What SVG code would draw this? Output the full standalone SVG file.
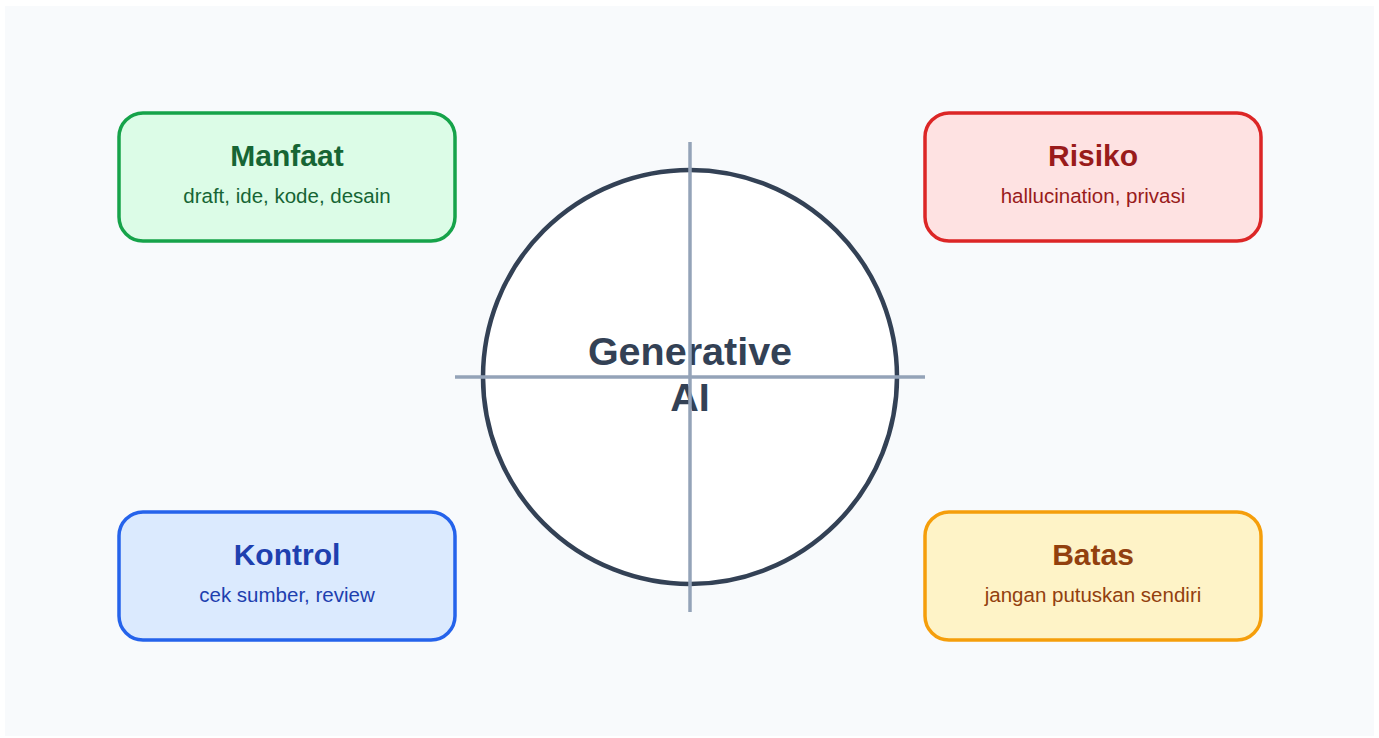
<svg xmlns="http://www.w3.org/2000/svg" width="1379" height="738" viewBox="0 0 1379 738">
  <style>
    .card { stroke-width: 3.5; }
    .title { font-family: "Liberation Sans", Arial, sans-serif; font-weight: bold; font-size: 30px; text-anchor: middle; }
    .sub { font-family: "Liberation Sans", Arial, sans-serif; font-size: 20.5px; text-anchor: middle; }
    .hub { font-family: "Liberation Sans", Arial, sans-serif; font-weight: bold; font-size: 39.5px; text-anchor: middle; fill: #334155; }
    .axis { stroke: #94a3b8; stroke-width: 3.5; }
  </style>
  <rect x="0" y="0" width="1379" height="738" fill="#ffffff"/>
  <rect x="5" y="6" width="1369" height="730" fill="#f8fafc"/>

  <!-- central hub -->
  <g id="hub">
    <circle cx="690" cy="377" r="207" fill="#ffffff" stroke="#334155" stroke-width="4.5"/>
    <text class="hub" x="690" y="365">Generative</text>
    <text class="hub" x="690" y="411">AI</text>
  </g>

  <!-- quadrant axes -->
  <g id="connectors">
    <line class="axis" x1="690" y1="142" x2="690" y2="612"/>
    <line class="axis" x1="455" y1="377" x2="925" y2="377"/>
  </g>

  <g id="manfaat">
    <rect class="card" x="119" y="113" width="336" height="128" rx="24" fill="#dcfce7" stroke="#16a34a"/>
    <text class="title" x="287" y="166" fill="#166534">Manfaat</text>
    <text class="sub" x="287" y="203" fill="#166534">draft, ide, kode, desain</text>
  </g>

  <g id="risiko">
    <rect class="card" x="925" y="113" width="336" height="128" rx="24" fill="#fee2e2" stroke="#dc2626"/>
    <text class="title" x="1093" y="166" fill="#991b1b">Risiko</text>
    <text class="sub" x="1093" y="203" fill="#991b1b">hallucination, privasi</text>
  </g>

  <g id="kontrol">
    <rect class="card" x="119" y="512" width="336" height="128" rx="24" fill="#dbeafe" stroke="#2563eb"/>
    <text class="title" x="287" y="565" fill="#1e40af">Kontrol</text>
    <text class="sub" x="287" y="602" fill="#1e40af">cek sumber, review</text>
  </g>

  <g id="batas">
    <rect class="card" x="925" y="512" width="336" height="128" rx="24" fill="#fef3c7" stroke="#f59e0b"/>
    <text class="title" x="1093" y="565" fill="#92400e">Batas</text>
    <text class="sub" x="1093" y="602" fill="#92400e">jangan putuskan sendiri</text>
  </g>
</svg>
